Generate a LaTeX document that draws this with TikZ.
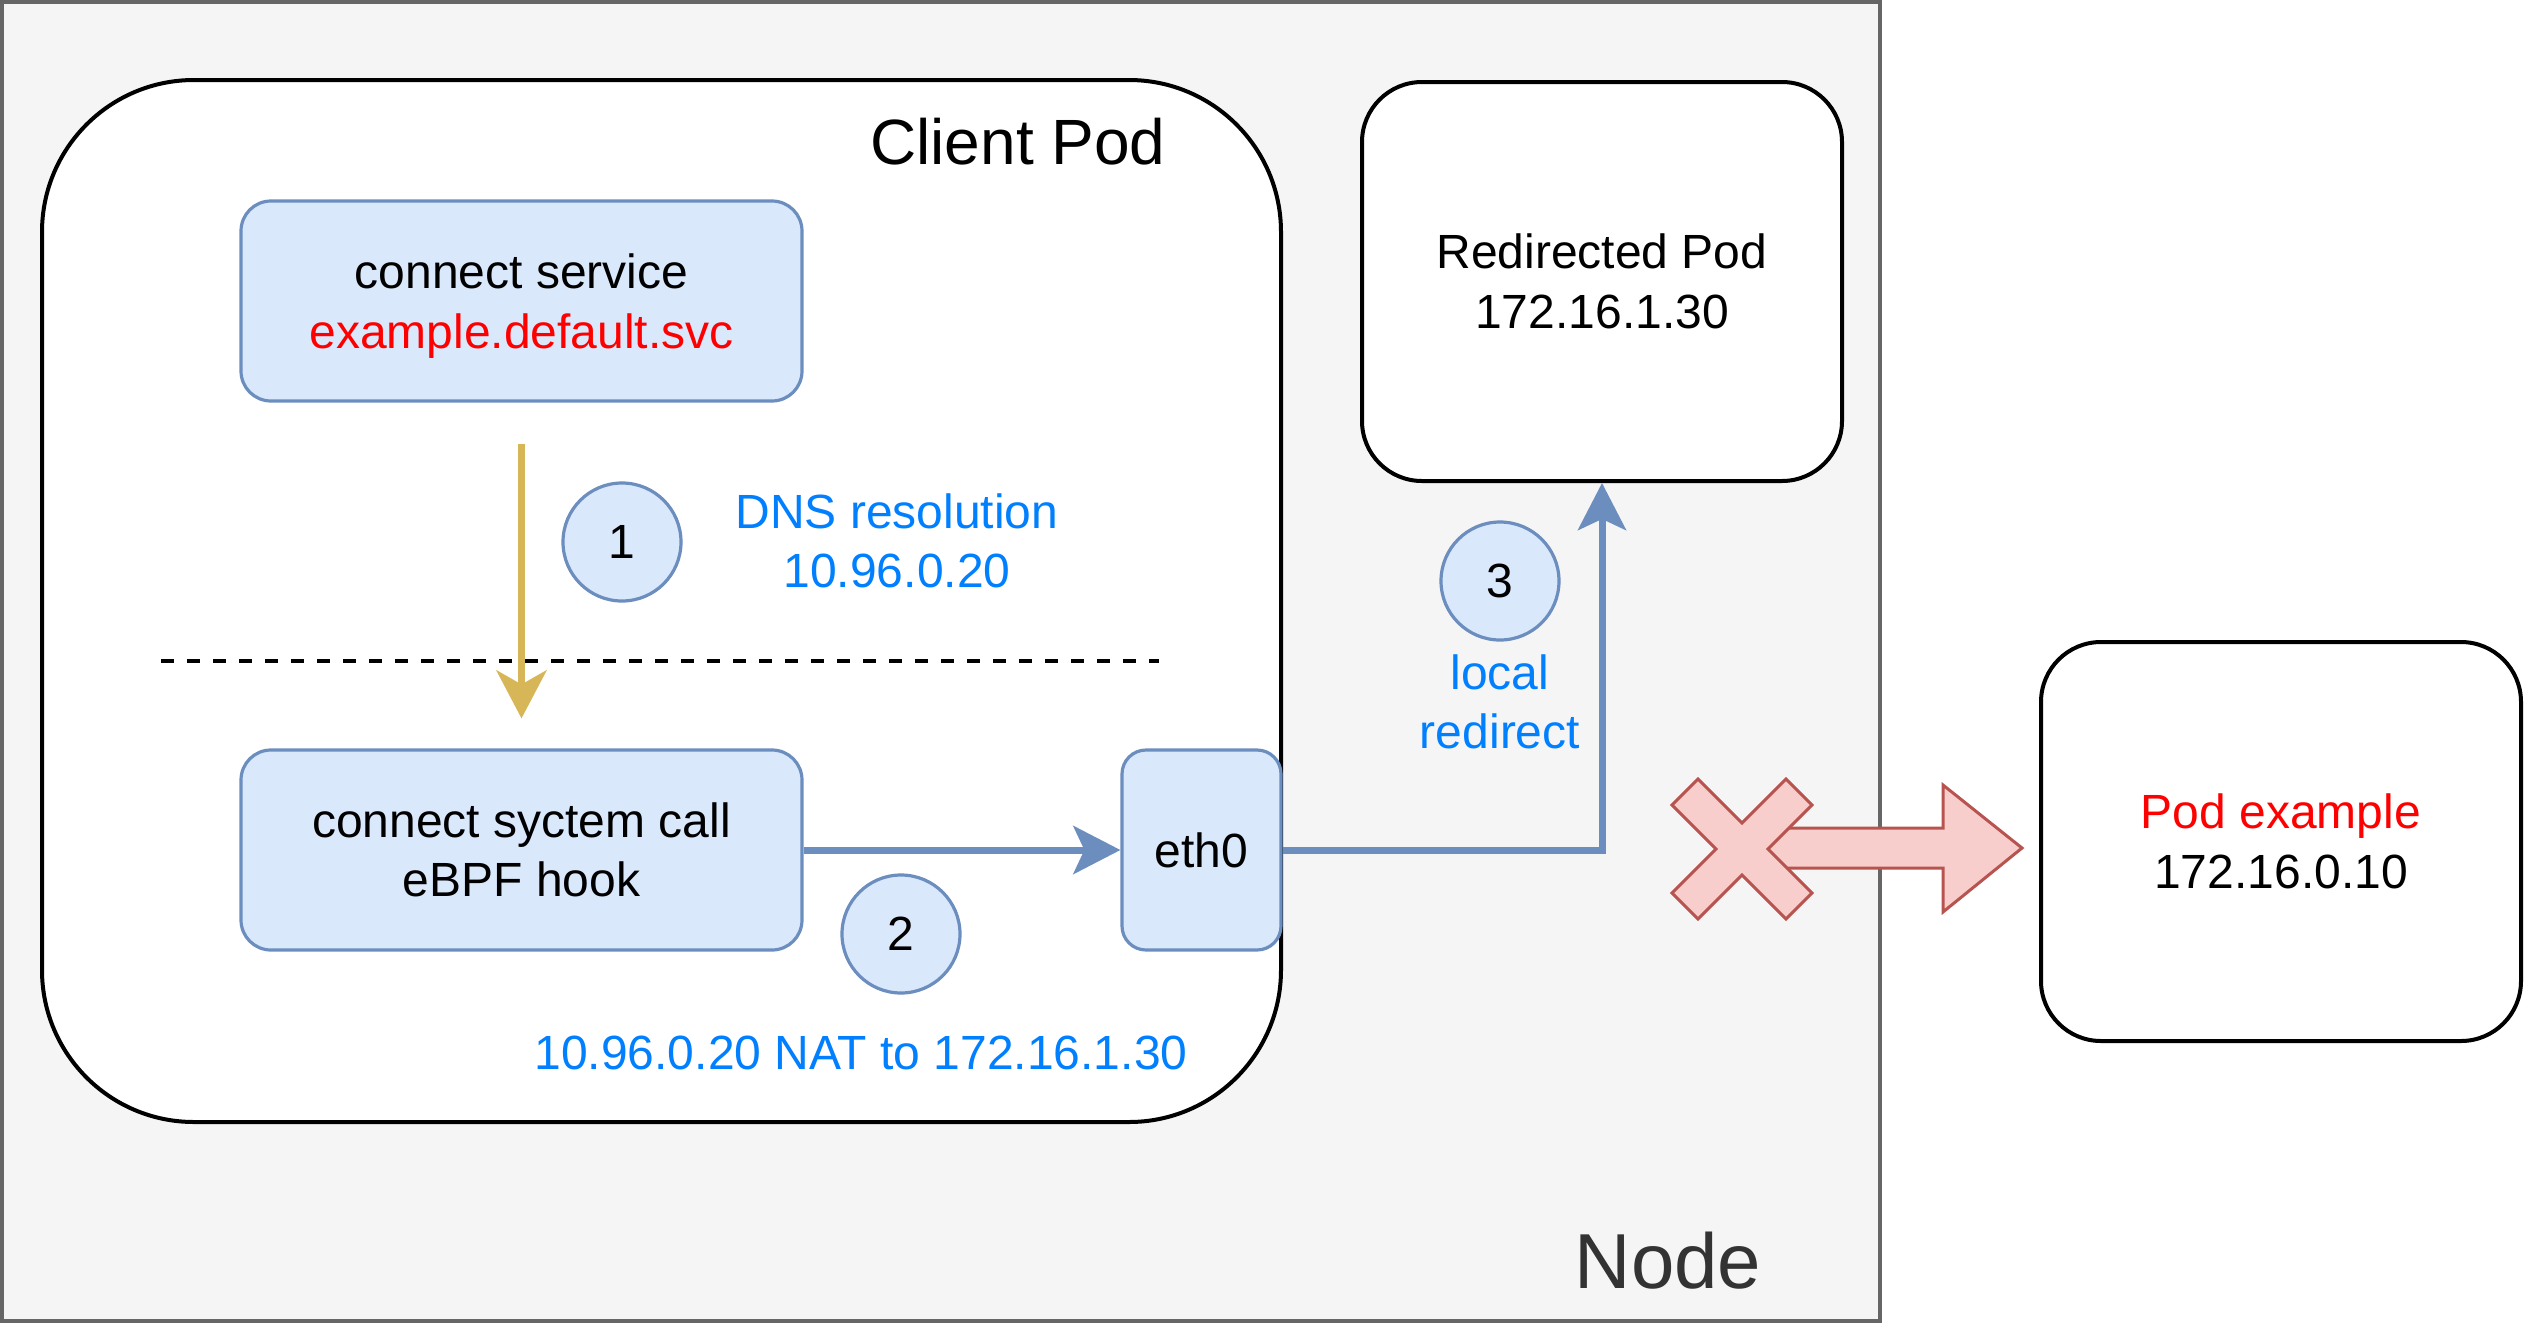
\documentclass[tikz,border=0pt]{standalone}
\usepackage{fontspec}
\setmainfont{Liberation Sans}
\usetikzlibrary{arrows.meta}
\definecolor{nodefill}{HTML}{F5F5F5}
\definecolor{nodestroke}{HTML}{666666}
\definecolor{nodetext}{HTML}{333333}
\definecolor{bfill}{HTML}{DAE8FC}
\definecolor{bstroke}{HTML}{6C8EBF}
\definecolor{yel}{HTML}{D6B656}
\definecolor{rfill}{HTML}{F8CECC}
\definecolor{rstroke}{HTML}{B85450}
\definecolor{txtblue}{HTML}{007FFF}
\definecolor{txtred}{HTML}{FF0000}
\newcommand\mytxt{\fontsize{24}{29.8}\selectfont}
\begin{document}
\begin{tikzpicture}[x=0.5pt,y=-0.5pt,
  bbox/.style={draw=bstroke, fill=bfill, line width=1.6pt, rounded corners=15pt, align=center, inner sep=0pt, font=\mytxt},
  wbox/.style={draw=black, fill=white, line width=2pt, rounded corners=30pt, align=center, inner sep=0pt, font=\mytxt, minimum width=240pt, minimum height=199.5pt},
  numc/.style={circle, draw=bstroke, fill=bfill, line width=1.6pt, minimum size=59pt, inner sep=0pt, font=\mytxt},
  bluetxt/.style={text=txtblue, align=center, font=\mytxt, inner sep=0pt},
  yarrow/.style={draw=yel, line width=3.5pt, -{Stealth[length=24pt,width=25pt,inset=7pt]}},
  barrow/.style={draw=bstroke, line width=3.5pt, -{Stealth[length=23.5pt,width=24pt,inset=5.5pt]}},
  dashline/.style={draw=black, line width=2pt, dash pattern=on 6.5pt off 6.5pt},
  redshape/.style={draw=rstroke, fill=rfill, line width=1.5pt, line join=miter}
]
\useasboundingbox (0,0) rectangle (2524,1324);
% Node container
\draw[draw=nodestroke, fill=nodefill, line width=2pt] (2,2) rectangle (1880,1321);
\node[text=nodetext, font=\fontsize{39}{46}\selectfont, inner sep=0pt] (nodelbl) at (1668,1261) {Node};
% Client pod
\draw[draw=black, fill=white, line width=2pt, rounded corners=76pt] (42,80) rectangle (1281,1122);
\node[font=\fontsize{32}{38}\selectfont, inner sep=0pt] (cplbl) at (1018,142) {Client Pod};
% boxes
\node[bbox, minimum width=280.5pt, minimum height=100pt] (svc) at (521.5,301) {connect service\\\smash{\textcolor{txtred}{example.default.svc}}};
\node[bbox, minimum width=280.5pt, minimum height=100pt] (hook) at (521.5,850) {connect syctem call\\eBPF hook};
\node[bbox, rounded corners=12pt, minimum width=79.5pt, minimum height=100pt] (eth) at (1201.5,850) {eth0};
\node[wbox] (redir) at (1602,281.5) {Redirected Pod\\172.16.1.30};
\node[wbox] (podex) at (2281,841.5) {\textcolor{txtred}{Pod example}\\172.16.0.10};
% dashed separator
\coordinate (d1) at (161,661);
\coordinate (d2) at (1159,661);
\draw[dashline] (d1) -- (d2);
% circles
\node[numc] (c1) at (622,542) {1};
\node[numc] (c2) at (901,934) {2};
\node[numc] (c3) at (1500,581) {3};
% labels
\node[bluetxt] (dns) at (897,541) {DNS resolution\\10.96.0.20};
\node[bluetxt] (nat) at (861,1053) {10.96.0.20 NAT to 172.16.1.30};
\node[bluetxt] (lr) at (1500,702) {local\\redirect};
% connectors
\draw[yarrow, shorten <=20.5pt, shorten >=15pt] (svc.south) -- (hook.north);
\draw[barrow] (hook.east) -- (eth.west);
\draw[barrow] (eth.east) -| (redir.south);
% blocked arrow
\draw[redshape] (1742,828) -- (1943,828) -- (1943,785) -- (2022,848) -- (1943,912) -- (1943,868) -- (1742,868) -- cycle;
\draw[redshape] (1742,849) ++(0,-26) -- ++(44,-44) -- ++(26,26) -- ++(-44,44) -- ++(44,44) -- ++(-26,26) -- ++(-44,-44) -- ++(-44,44) -- ++(-26,-26) -- ++(44,-44) -- ++(-44,-44) -- ++(26,-26) -- cycle;
\end{tikzpicture}
\end{document}
